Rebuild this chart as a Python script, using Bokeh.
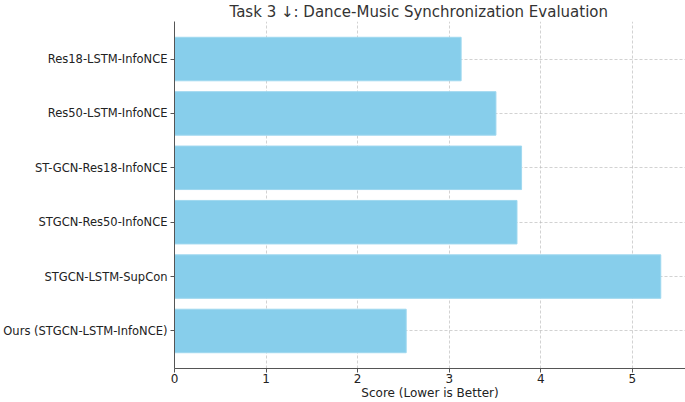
from bokeh.plotting import figure
from bokeh.models import FactorRange, Range1d, FixedTicker
from bokeh.embed import file_html
from bokeh.resources import INLINE

# Data (bottom to top)
methods = [
    "Ours (STGCN-LSTM-InfoNCE)",
    "STGCN-LSTM-SupCon",
    "STGCN-Res50-InfoNCE",
    "ST-GCN-Res18-InfoNCE",
    "Res50-LSTM-InfoNCE",
    "Res18-LSTM-InfoNCE",
]
scores = [2.53, 5.31, 3.74, 3.79, 3.51, 3.13]
x_ticks = [0, 1, 2, 3, 4, 5]
title_text = "Task 3 \u2193: Dance-Music Synchronization Evaluation"
x_label = "Score (Lower is Better)"

FONT = "DejaVu Sans"

p = figure(
    width=685, height=402,
    y_range=FactorRange(factors=methods, range_padding=0.19, range_padding_units="absolute"),
    x_range=Range1d(0, 5.58),
    output_backend="svg", toolbar_location=None,
    min_border_left=172, min_border_top=18, min_border_right=0, min_border_bottom=10,
)
p.outline_line_color = None
p.background_fill_color = "white"
p.border_fill_color = "white"

p.title.text = title_text
p.title.text_font = FONT
p.title.text_font_size = "15px"
p.title.text_font_style = "normal"
p.title.text_color = "#333333"
p.title.align = "left"
p.title.offset = 55
p.title.standoff = 1

p.hbar(y=methods, right=scores, height=0.8, left=0,
       fill_color="#87CEEB", line_color="#9fd8ef", line_width=1)

# grid
for g in (p.xgrid, p.ygrid):
    g.grid_line_color = "#b8b8b8"
    g.grid_line_dash = "3 2"
    g.grid_line_width = 0.8
    g.grid_line_alpha = 0.8

p.xaxis.ticker = FixedTicker(ticks=x_ticks)
p.xaxis.axis_label = x_label

for ax in (p.xaxis, p.yaxis):
    ax.axis_line_color = "#555555"
    ax.axis_line_width = 1
    ax.major_tick_line_color = "#555555"
    ax.major_tick_out = 4
    ax.major_tick_in = 0
    ax.minor_tick_line_color = None
    ax.major_label_text_font = FONT
    ax.major_label_text_color = "#222222"
    ax.axis_label_text_font = FONT
    ax.axis_label_text_font_size = "12px"
    ax.axis_label_text_font_style = "normal"
    ax.axis_label_text_color = "#222222"

p.yaxis.major_label_text_font_size = "11.5px"
p.yaxis.major_label_standoff = 3
p.xaxis.major_label_text_font_size = "12px"
p.xaxis.major_label_standoff = 1
p.xaxis.axis_label_standoff = 0

open("out.html", "w").write(file_html(p, INLINE))
